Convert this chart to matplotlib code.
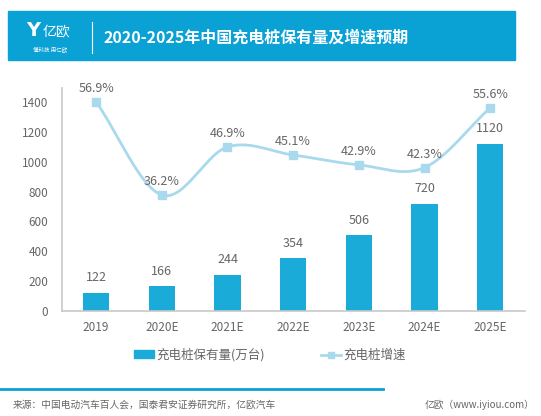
import numpy as np
import matplotlib.pyplot as plt
from matplotlib.patches import Rectangle
from matplotlib.lines import Line2D

plt.rcParams['font.family'] = ['Noto Sans CJK SC', 'DejaVu Sans']

years = ['2019', '2020E', '2021E', '2022E', '2023E', '2024E', '2025E']
stock = [122, 166, 244, 354, 506, 720, 1120]          # 万台
growth = [56.9, 36.2, 46.9, 45.1, 42.9, 42.3, 55.6]    # %

BAR_COLOR = '#1aabd8'
LINE_COLOR = '#a9d9ec'
HEAD_COLOR = '#0aa1d5'
TEXT_GRAY = '#666666'
AXIS_GRAY = '#c8c8c8'


def catmull_rom(xs, ys, n=30):
    # smooth curve through the points, only used for drawing
    xs = np.asarray(xs, float)
    ys = np.asarray(ys, float)
    px = np.concatenate([[2 * xs[0] - xs[1]], xs, [2 * xs[-1] - xs[-2]]])
    py = np.concatenate([[2 * ys[0] - ys[1]], ys, [2 * ys[-1] - ys[-2]]])
    out_x, out_y = [], []
    t = np.linspace(0, 1, n)
    for i in range(1, len(px) - 2):
        for p, out in ((px, out_x), (py, out_y)):
            p0, p1, p2, p3 = p[i - 1], p[i], p[i + 1], p[i + 2]
            seg = 0.5 * ((2 * p1) + (-p0 + p2) * t
                         + (2 * p0 - 5 * p1 + 4 * p2 - p3) * t**2
                         + (-p0 + 3 * p1 - 3 * p2 + p3) * t**3)
            out.extend(seg)
    return np.array(out_x), np.array(out_y)


fig = plt.figure(figsize=(5.41, 4.16), dpi=100)

# header band
fig.patches.append(Rectangle((8 / 541, 1 - 60 / 416), 507 / 541, 49 / 416,
                             transform=fig.transFigure, color=HEAD_COLOR, zorder=0))
fig.text(33 / 541, 1 - 31 / 416, 'Y', color='white', fontsize=14, fontweight='bold',
         ha='center', va='center', family='DejaVu Sans')
fig.text(56 / 541, 1 - 32 / 416, '亿欧', color='white', fontsize=10, ha='center', va='center')
fig.text(50 / 541, 1 - 50 / 416, '懂科技 用亿欧', color='white', fontsize=4, ha='center', va='center')
fig.add_artist(Line2D([92 / 541, 92 / 541], [1 - 22 / 416, 1 - 53 / 416],
                      transform=fig.transFigure, color='white', lw=0.8))
fig.text(103 / 541, 1 - 38 / 416, '2020-2025年中国充电桩保有量及增速预期', color='white',
         fontsize=11.5, fontweight='bold', ha='left', va='center')

# main axes
ax = fig.add_axes([62 / 541, 1 - 311 / 416, 463 / 541, 223 / 416])
x = np.arange(len(years))
ax.bar(x, stock, width=0.4, color=BAR_COLOR, zorder=2, label='充电桩保有量(万台)')
for xi, v in zip(x, stock):
    ax.annotate(str(v), (xi, v), xytext=(0, 6), textcoords='offset points',
                ha='center', va='bottom', fontsize=9, color=TEXT_GRAY)
ax.set_xlim(-0.52, 6.53)
ax.set_ylim(0, 1494)
ax.set_yticks(range(0, 1401, 200))
ax.set_xticks(x)
ax.set_xticklabels(years)
ax.tick_params(axis='both', length=0, labelsize=8.5, labelcolor=TEXT_GRAY)
ax.tick_params(axis='y', pad=10)
ax.tick_params(axis='x', pad=7)
for s in ['top', 'right']:
    ax.spines[s].set_visible(False)
for s in ['left', 'bottom']:
    ax.spines[s].set_color(AXIS_GRAY)
    ax.spines[s].set_linewidth(1.2)

# growth line on hidden secondary axis
ax2 = ax.twinx()
ax2.set_ylim(10.4, 60.0)
ax2.axis('off')
sx, sy = catmull_rom(x, growth)
ax2.plot(sx, sy, color=LINE_COLOR, lw=2, zorder=3)
ax2.plot(x, growth, 's', color=LINE_COLOR, ms=5.5, zorder=4)
for xi, v in zip(x, growth):
    ax2.annotate(f'{v}%', (xi, v), xytext=(0, 5), textcoords='offset points',
                 ha='center', va='bottom', fontsize=9, color=TEXT_GRAY)

# legend
h1 = Rectangle((0, 0), 1, 1, color=BAR_COLOR)
h2 = Line2D([], [], color=LINE_COLOR, lw=2, marker='s', ms=5)
leg = fig.legend([h1, h2], ['充电桩保有量(万台)', '充电桩增速'], loc='center',
                 bbox_to_anchor=(270 / 541, 1 - 355 / 416), ncol=2, frameon=False,
                 fontsize=9, handlelength=1.6, handleheight=0.6, handletextpad=0.2,
                 columnspacing=4.5)
for t in leg.get_texts():
    t.set_color(TEXT_GRAY)

# footer
fig.add_artist(Line2D([0, 383 / 541], [1 - 389 / 416, 1 - 389 / 416],
                      transform=fig.transFigure, color=HEAD_COLOR, lw=2))
fig.text(13 / 541, 1 - 405 / 416, '来源：中国电动汽车百人会，国泰君安证券研究所，亿欧汽车',
         color=TEXT_GRAY, fontsize=7, ha='left', va='center')
fig.text(535 / 541, 1 - 405 / 416, '亿欧（www.iyiou.com）',
         color=TEXT_GRAY, fontsize=7, ha='right', va='center')

fig.savefig('out.png', dpi=100)
